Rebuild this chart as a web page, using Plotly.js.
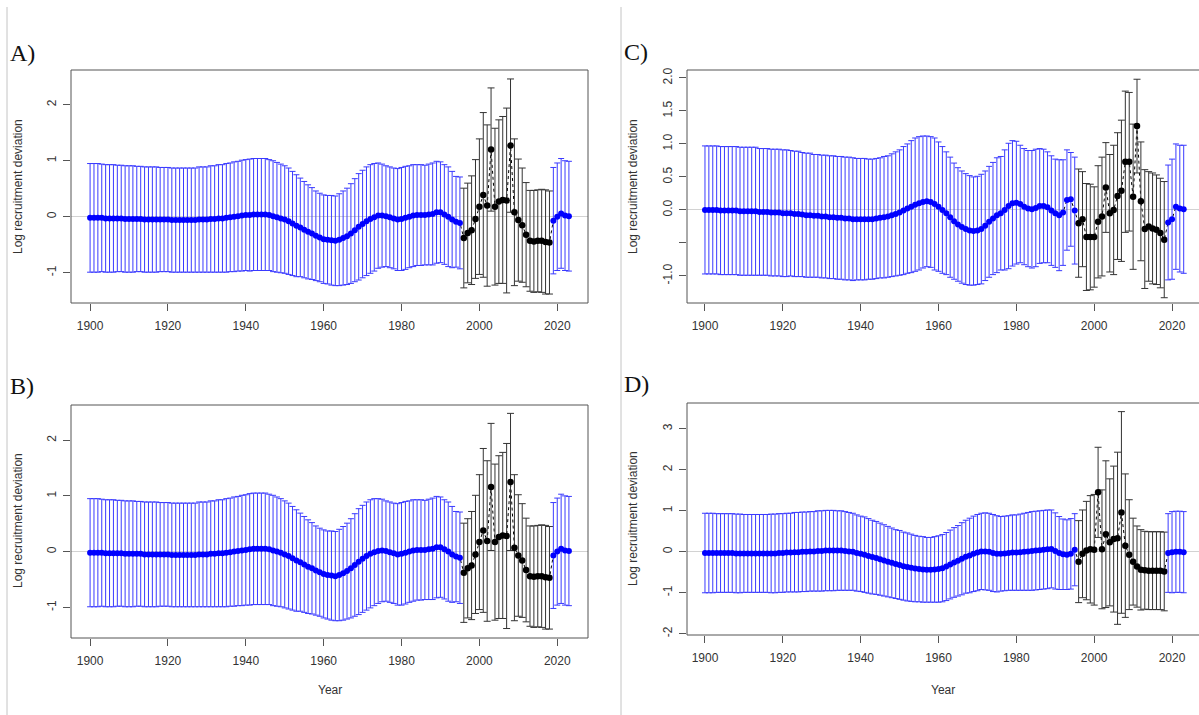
<!DOCTYPE html>
<html>
<head>
<meta charset="utf-8">
<script src="https://cdn.plot.ly/plotly-3.0.1.min.js"></script>
<style>html,body{margin:0;padding:0;background:#fff;}#chart{width:1199px;height:715px;}</style>
</head>
<body>
<div id="chart"></div>
<script>
// ---------- DATA ----------
const yearsEarlyStart = 1900, yearsEarlyEnd = 1995;
const yearsMainStart = 1996, yearsMainEnd = 2018;
const yearsLateStart = 2019, yearsLateEnd = 2023;

const xTickVals = [1900, 1920, 1940, 1960, 1980, 2000, 2020];
const xTickText = ["1900", "1920", "1940", "1960", "1980", "2000", "2020"];

const yTickValsAB = [-1, 0, 1, 2];
const yTickTextAB = ["-1", "0", "1", "2"];
const yTickValsC = [-1, -0.5, 0, 0.5, 1, 1.5, 2];
const yTickTextC = ["-1.0", "", "0.0", "0.5", "1.0", "1.5", "2.0"];
const yTickValsD = [-2, -1, 0, 1, 2, 3];
const yTickTextD = ["-2", "-1", "0", "1", "2", "3"];

// Panel A
const aMeanEarly = [-0.02,-0.02,-0.02,-0.02,-0.03,-0.03,-0.03,-0.03,-0.03,-0.04,
 -0.04,-0.04,-0.04,-0.04,-0.05,-0.05,-0.05,-0.05,-0.05,-0.05,
 -0.05,-0.06,-0.06,-0.06,-0.06,-0.06,-0.06,-0.06,-0.05,-0.05,
 -0.05,-0.04,-0.04,-0.03,-0.03,-0.02,-0.01,0.00,0.01,0.02,
 0.03,0.03,0.04,0.04,0.04,0.04,0.03,0.01,-0.01,-0.03,
 -0.05,-0.08,-0.12,-0.16,-0.19,-0.23,-0.27,-0.30,-0.34,-0.37,
 -0.40,-0.41,-0.42,-0.43,-0.41,-0.38,-0.35,-0.30,-0.24,-0.18,
 -0.13,-0.08,-0.04,-0.01,0.02,0.02,0.01,-0.01,-0.03,-0.05,
 -0.04,-0.02,0.00,0.02,0.03,0.03,0.03,0.04,0.05,0.08,
 0.08,0.04,0.00,-0.05,-0.09,-0.11];
const aHwEarly = [0.97,0.97,0.97,0.96,0.96,0.96,0.96,0.95,0.95,0.95,
 0.95,0.95,0.94,0.94,0.94,0.94,0.94,0.94,0.93,0.93,
 0.93,0.93,0.93,0.93,0.93,0.93,0.93,0.93,0.94,0.94,
 0.94,0.95,0.95,0.96,0.96,0.97,0.97,0.98,0.98,0.99,
 0.99,1.00,1.00,1.00,1.00,1.00,0.99,0.99,0.98,0.97,
 0.96,0.95,0.93,0.91,0.88,0.86,0.84,0.82,0.80,0.79,
 0.79,0.79,0.80,0.80,0.82,0.84,0.86,0.89,0.92,0.95,
 0.96,0.97,0.97,0.96,0.94,0.92,0.90,0.90,0.90,0.91,
 0.92,0.92,0.91,0.91,0.90,0.90,0.89,0.90,0.91,0.91,
 0.90,0.89,0.89,0.86,0.81,0.82];
const aMeanMain = [-0.38,-0.29,-0.24,-0.04,0.18,0.39,0.20,1.20,0.18,0.27,0.30,0.29,1.27,0.08,-0.06,-0.15,-0.32,-0.43,-0.44,-0.43,-0.43,-0.45,-0.46];
const aHwMain = [0.89,0.89,0.97,1.06,1.21,1.47,1.44,1.10,1.40,1.46,1.49,1.65,1.19,1.31,1.09,1.02,0.93,0.90,0.91,0.91,0.92,0.93,0.92];
const aMeanLate = [-0.07,0.00,0.06,0.02,0.01];
const aHwLate = [0.95,0.96,0.98,0.98,0.98];

// Panel B
const bMeanEarly = [-0.02,-0.02,-0.02,-0.02,-0.03,-0.03,-0.03,-0.03,-0.03,-0.04,
 -0.04,-0.04,-0.04,-0.04,-0.05,-0.05,-0.05,-0.05,-0.05,-0.05,
 -0.05,-0.06,-0.06,-0.06,-0.06,-0.06,-0.06,-0.06,-0.05,-0.05,
 -0.05,-0.04,-0.04,-0.03,-0.03,-0.02,-0.01,0.00,0.01,0.02,
 0.03,0.04,0.05,0.05,0.05,0.05,0.04,0.02,0.00,-0.02,
 -0.05,-0.08,-0.12,-0.16,-0.19,-0.23,-0.27,-0.30,-0.34,-0.37,
 -0.40,-0.42,-0.43,-0.44,-0.42,-0.39,-0.35,-0.30,-0.24,-0.18,
 -0.13,-0.08,-0.04,-0.01,0.01,0.02,0.01,-0.01,-0.03,-0.05,
 -0.04,-0.02,0.00,0.02,0.03,0.03,0.03,0.04,0.05,0.08,
 0.08,0.04,0.00,-0.05,-0.09,-0.11];
const bHwEarly = [0.97,0.97,0.97,0.96,0.96,0.96,0.96,0.95,0.95,0.95,
 0.95,0.95,0.94,0.94,0.94,0.94,0.94,0.94,0.93,0.93,
 0.93,0.93,0.93,0.93,0.93,0.93,0.93,0.93,0.94,0.94,
 0.94,0.95,0.95,0.96,0.96,0.97,0.97,0.98,0.98,0.99,
 0.99,1.00,1.00,1.00,1.00,1.00,0.99,0.99,0.98,0.97,
 0.96,0.95,0.93,0.91,0.88,0.86,0.84,0.82,0.80,0.79,
 0.79,0.79,0.80,0.80,0.82,0.84,0.86,0.89,0.92,0.95,
 0.96,0.97,0.97,0.96,0.94,0.92,0.90,0.90,0.90,0.91,
 0.92,0.92,0.91,0.91,0.90,0.90,0.89,0.90,0.91,0.91,
 0.90,0.89,0.89,0.86,0.81,0.82];
const bMeanMain = [-0.38,-0.30,-0.25,-0.05,0.17,0.38,0.19,1.16,0.17,0.26,0.29,0.28,1.25,0.07,-0.07,-0.16,-0.33,-0.44,-0.45,-0.44,-0.44,-0.46,-0.47];
const bHwMain = [0.89,0.89,0.97,1.06,1.21,1.47,1.44,1.14,1.40,1.46,1.49,1.66,1.23,1.31,1.09,1.02,0.93,0.90,0.91,0.91,0.92,0.93,0.92];
const bMeanLate = [-0.07,0.00,0.05,0.02,0.01];
const bHwLate = [0.95,0.96,0.98,0.98,0.98];

// Panel C
const cMeanEarly = [0.00,0.00,0.00,0.00,-0.01,-0.01,-0.01,-0.01,-0.01,-0.02,
 -0.02,-0.02,-0.02,-0.02,-0.03,-0.03,-0.03,-0.04,-0.04,-0.04,
 -0.05,-0.05,-0.05,-0.06,-0.06,-0.07,-0.08,-0.08,-0.09,-0.09,
 -0.10,-0.10,-0.11,-0.11,-0.12,-0.12,-0.13,-0.13,-0.14,-0.14,
 -0.14,-0.14,-0.14,-0.14,-0.13,-0.12,-0.11,-0.10,-0.08,-0.06,
 -0.04,-0.01,0.02,0.05,0.08,0.10,0.12,0.13,0.12,0.09,
 0.05,0.00,-0.05,-0.11,-0.17,-0.22,-0.26,-0.29,-0.31,-0.32,
 -0.31,-0.29,-0.24,-0.18,-0.13,-0.08,-0.05,0.00,0.06,0.10,
 0.11,0.09,0.05,0.02,0.01,0.03,0.06,0.06,0.04,-0.01,
 -0.05,-0.08,-0.04,0.15,0.16,-0.01];
const cHwEarly = [0.97,0.97,0.97,0.97,0.97,0.97,0.97,0.97,0.97,0.97,
 0.97,0.97,0.97,0.97,0.96,0.96,0.96,0.96,0.96,0.96,
 0.96,0.96,0.95,0.95,0.95,0.94,0.94,0.94,0.93,0.93,
 0.93,0.93,0.93,0.93,0.93,0.93,0.93,0.93,0.93,0.92,
 0.92,0.92,0.91,0.91,0.91,0.91,0.92,0.92,0.93,0.94,
 0.95,0.97,0.98,1.00,1.01,1.01,1.00,0.99,0.99,1.00,
 0.98,0.96,0.93,0.91,0.88,0.86,0.85,0.84,0.83,0.82,
 0.82,0.83,0.83,0.84,0.85,0.87,0.86,0.91,0.95,0.95,
 0.93,0.89,0.88,0.88,0.89,0.89,0.87,0.86,0.84,0.83,
 0.82,0.84,0.80,0.76,0.71,0.81];
const cMeanMain = [-0.20,-0.14,-0.41,-0.41,-0.41,-0.18,-0.10,0.34,-0.05,0.00,0.21,0.29,0.73,0.73,0.20,1.27,0.13,-0.29,-0.25,-0.28,-0.30,-0.35,-0.45];
const cHwMain = [0.82,0.72,0.81,0.80,0.76,0.85,0.90,0.68,0.89,0.98,0.96,1.07,1.07,1.05,1.10,0.71,0.90,0.90,0.83,0.84,0.83,0.83,0.88];
const cMeanLate = [-0.19,-0.14,0.05,0.02,0.01];
const cHwLate = [0.87,0.91,0.95,0.96,0.97];

// Panel D
const dMeanEarly = [-0.03,-0.03,-0.03,-0.03,-0.03,-0.03,-0.03,-0.03,-0.04,-0.04,
 -0.04,-0.04,-0.04,-0.04,-0.04,-0.04,-0.04,-0.04,-0.04,-0.03,
 -0.03,-0.02,-0.02,-0.01,-0.01,0.00,0.00,0.01,0.01,0.02,
 0.02,0.03,0.03,0.03,0.03,0.03,0.02,0.01,0.00,-0.03,
 -0.05,-0.07,-0.10,-0.13,-0.15,-0.18,-0.21,-0.24,-0.27,-0.30,
 -0.32,-0.35,-0.37,-0.39,-0.41,-0.42,-0.43,-0.44,-0.44,-0.43,
 -0.42,-0.40,-0.36,-0.31,-0.26,-0.22,-0.17,-0.12,-0.09,-0.05,
 -0.02,0.01,0.01,0.00,-0.03,-0.05,-0.05,-0.04,-0.03,-0.02,
 -0.02,-0.01,0.00,0.01,0.02,0.03,0.04,0.05,0.06,0.07,
 0.02,-0.03,-0.06,-0.07,-0.05,0.05];
const dHwEarly = [0.97,0.97,0.97,0.96,0.96,0.96,0.96,0.96,0.96,0.96,
 0.95,0.95,0.95,0.95,0.95,0.95,0.95,0.96,0.96,0.96,
 0.96,0.96,0.96,0.97,0.97,0.97,0.97,0.97,0.97,0.98,
 0.98,0.98,0.98,0.98,0.97,0.97,0.96,0.95,0.94,0.93,
 0.92,0.92,0.91,0.90,0.89,0.88,0.87,0.86,0.85,0.84,
 0.84,0.83,0.83,0.82,0.81,0.80,0.80,0.79,0.79,0.80,
 0.81,0.82,0.83,0.84,0.85,0.86,0.88,0.89,0.91,0.92,
 0.93,0.93,0.94,0.94,0.94,0.93,0.91,0.91,0.91,0.92,
 0.92,0.93,0.94,0.95,0.96,0.96,0.96,0.96,0.96,0.95,
 0.93,0.89,0.86,0.85,0.86,0.88];
const dMeanMain = [-0.24,-0.05,0.03,0.06,0.05,1.45,0.06,0.43,0.23,0.31,0.33,0.96,0.15,-0.07,-0.24,-0.36,-0.44,-0.45,-0.46,-0.46,-0.46,-0.46,-0.48];
const dHwMain = [1.00,1.07,1.20,1.31,1.35,1.10,1.45,1.79,1.55,1.78,2.10,2.46,1.75,1.34,1.06,0.99,0.98,0.95,0.95,0.95,0.95,0.95,0.96];
const dMeanLate = [-0.03,-0.01,0.00,0.00,-0.01];
const dHwLate = [0.96,0.99,0.99,0.99,0.99];

// ---------- BUILD ----------
function seq(a, b) { const r = []; for (let v = a; v <= b; v++) r.push(v); return r; }
const yrsEarly = seq(yearsEarlyStart, yearsEarlyEnd);
const yrsMain = seq(yearsMainStart, yearsMainEnd);
const yrsLate = seq(yearsLateStart, yearsLateEnd);

const BLUE = '#0000ff', BLUEBAR = '#3a3aff', BLACK = '#000000', BLACKBAR = '#333333';

function panelTraces(xa, ya, yLab, mE, hE, mM, hM, mL, hL) {
  const allX = yrsEarly.concat(yrsMain, yrsLate);
  const allY = mE.concat(mM, mL);
  return [
    {x: allX, y: allY, xaxis: xa, yaxis: ya, type: 'scatter', mode: 'lines',
     line: {color: BLACK, width: 1, dash: 'dot'}, hoverinfo: 'skip'},
    {x: yrsEarly, y: mE, xaxis: xa, yaxis: ya, type: 'scatter', mode: 'markers',
     marker: {color: BLUE, size: 6},
     error_y: {type: 'data', array: hE, symmetric: true, color: BLUEBAR, thickness: 1, width: 3}},
    {x: yrsMain, y: mM, xaxis: xa, yaxis: ya, type: 'scatter', mode: 'markers',
     marker: {color: BLACK, size: 6.5},
     error_y: {type: 'data', array: hM, symmetric: true, color: BLACKBAR, thickness: 1, width: 3.5}},
    {x: yrsLate, y: mL, xaxis: xa, yaxis: ya, type: 'scatter', mode: 'markers',
     marker: {color: BLUE, size: 6},
     error_y: {type: 'data', array: hL, symmetric: true, color: BLUEBAR, thickness: 1, width: 3}},
    // empty holder so the label axis (R-style offset tick labels) is drawn
    {x: [null], y: [null], xaxis: xa, yaxis: yLab, type: 'scatter', mode: 'markers',
     marker: {opacity: 0}, hoverinfo: 'skip'}
  ];
}

const data = [].concat(
  panelTraces('x', 'y', 'y5', aMeanEarly, aHwEarly, aMeanMain, aHwMain, aMeanLate, aHwLate),
  panelTraces('x2', 'y2', 'y6', bMeanEarly, bHwEarly, bMeanMain, bHwMain, bMeanLate, bHwLate),
  panelTraces('x3', 'y3', 'y7', cMeanEarly, cHwEarly, cMeanMain, cHwMain, cMeanLate, cHwLate),
  panelTraces('x4', 'y4', 'y8', dMeanEarly, dHwEarly, dMeanMain, dHwMain, dMeanLate, dHwLate)
);

const W = 1199, H = 715;
const px = v => v / W;
const py = v => 1 - v / H;
const tickFont = {family: 'Liberation Sans, Arial, sans-serif', size: 12, color: '#333'};

function xAxis(x0, x1, range, anchor) {
  return {domain: [px(x0), Math.min(1, px(x1))], range: range, anchor: anchor,
    tickmode: 'array', tickvals: xTickVals, ticktext: xTickText,
    ticks: 'outside', ticklen: 7, tickwidth: 1, tickcolor: '#555',
    showgrid: false, zeroline: false, showline: false,
    tickfont: tickFont, ticklabelstandoff: 5, fixedrange: true};
}
// y axis drawing the tick marks and the zero line
function yAxis(y0, y1, range, anchor, tv) {
  return {domain: [py(y1), py(y0)], range: range, anchor: anchor,
    tickmode: 'array', tickvals: tv, showticklabels: false,
    ticks: 'outside', ticklen: 7, tickwidth: 1, tickcolor: '#555',
    showgrid: false, zeroline: true, zerolinecolor: '#d2d2d2', zerolinewidth: 1, showline: false,
    fixedrange: true};
}
// overlaying y axis carrying the rotated tick labels, set further left like R
function yLabelAxis(base, range, posPx, tv, tt) {
  return {overlaying: base, anchor: 'free', position: px(posPx), side: 'left', range: range,
    tickmode: 'array', tickvals: tv, ticktext: tt, tickangle: -90, ticks: '',
    showgrid: false, zeroline: false, showline: false, tickfont: tickFont, fixedrange: true};
}

function boxShape(xr, yr, xEnd) {
  return {type: 'rect', xref: xr + ' domain', yref: yr + ' domain', x0: 0, x1: xEnd, y0: 0, y1: 1,
    line: {color: '#555', width: 1}, fillcolor: 'rgba(0,0,0,0)', layer: 'above'};
}

const labelFont = {family: 'Liberation Serif, Times New Roman, serif', size: 24, color: '#111'};
const titleFont = {family: 'Liberation Sans, Arial, sans-serif', size: 12, color: '#333'};

function ann(text, x, y, font, angle, xanchor) {
  return {text: text, xref: 'paper', yref: 'paper', x: px(x), y: py(y), showarrow: false,
    xanchor: xanchor || 'center', yanchor: 'middle', font: font, textangle: angle || 0};
}

const rA = [-1.54, 2.62], rB = [-1.55, 2.63], rC = [-1.41, 2.12], rD = [-2.03, 3.63];

const layout = {
  width: W, height: H, margin: {l: 0, r: 0, t: 0, b: 0},
  paper_bgcolor: '#fff', plot_bgcolor: 'rgba(0,0,0,0)', showlegend: false,
  xaxis: xAxis(71, 588, [1895.1, 2027.9], 'y'),
  yaxis: yAxis(70, 303, rA, 'x', yTickValsAB),
  xaxis2: xAxis(71, 588, [1895.1, 2027.9], 'y2'),
  yaxis2: yAxis(405, 638, rB, 'x2', yTickValsAB),
  xaxis3: xAxis(687, 1199, [1895.38, 2026.93], 'y3'),
  yaxis3: yAxis(70, 303, rC, 'x3', yTickValsC),
  xaxis4: xAxis(687, 1199, [1895.38, 2026.93], 'y4'),
  yaxis4: yAxis(403, 635, rD, 'x4', yTickValsD),
  yaxis5: yLabelAxis('y', rA, 58, yTickValsAB, yTickTextAB),
  yaxis6: yLabelAxis('y2', rB, 58, yTickValsAB, yTickTextAB),
  yaxis7: yLabelAxis('y3', rC, 674, yTickValsC, yTickTextC),
  yaxis8: yLabelAxis('y4', rD, 674, yTickValsD, yTickTextD),
  shapes: [
    boxShape('x', 'y', 1), boxShape('x2', 'y2', 1),
    boxShape('x3', 'y3', 1.02), boxShape('x4', 'y4', 1.02),
    {type: 'line', xref: 'paper', yref: 'paper', x0: px(7), x1: px(7), y0: py(7), y1: 0,
     line: {color: '#c4c4c4', width: 1}},
    {type: 'line', xref: 'paper', yref: 'paper', x0: px(621), x1: px(621), y0: py(7), y1: 0,
     line: {color: '#c4c4c4', width: 1}}
  ],
  annotations: [
    ann('A)', 8, 53, labelFont, 0, 'left'),
    ann('B)', 8, 386, labelFont, 0, 'left'),
    ann('C)', 622, 52, labelFont, 0, 'left'),
    ann('D)', 622, 384, labelFont, 0, 'left'),
    ann('Log recruitment deviation', 18, 187, titleFont, -90),
    ann('Log recruitment deviation', 18, 521, titleFont, -90),
    ann('Log recruitment deviation', 633, 187, titleFont, -90),
    ann('Log recruitment deviation', 633, 519, titleFont, -90),
    ann('Year', 330, 690, titleFont, 0),
    ann('Year', 943, 690, titleFont, 0)
  ]
};

Plotly.newPlot('chart', data, layout, {displayModeBar: false, staticPlot: true});
</script>
</body>
</html>
